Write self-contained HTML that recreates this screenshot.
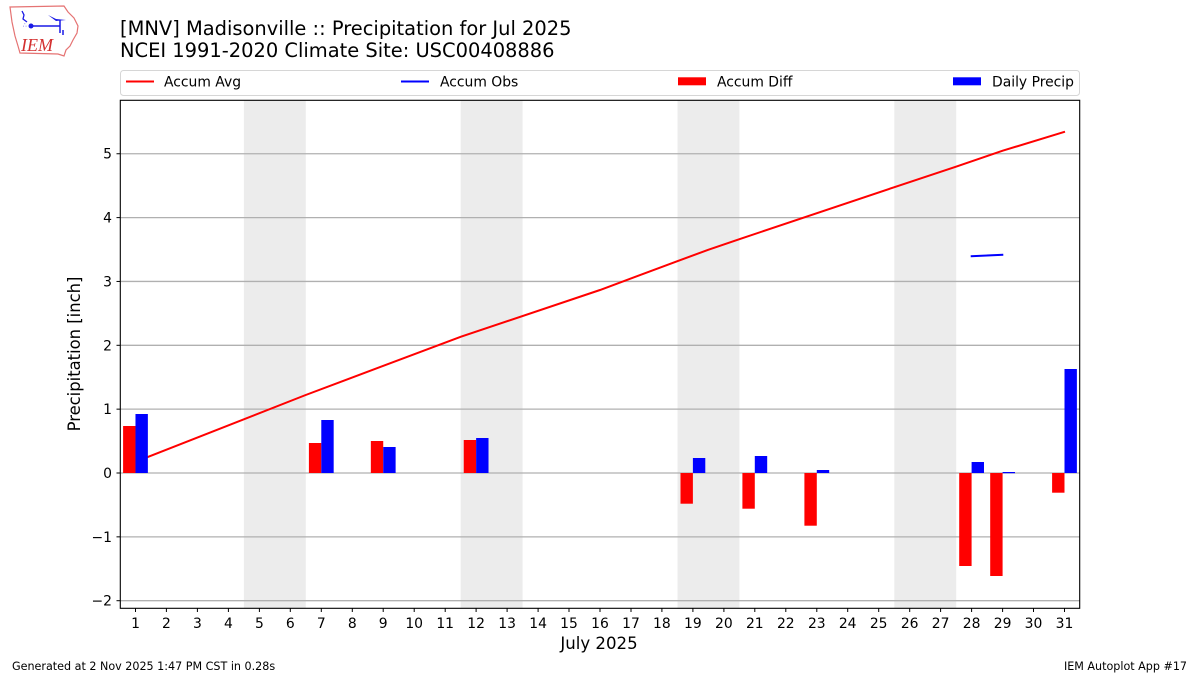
<!DOCTYPE html>
<html><head><meta charset="utf-8"><style>
html,body{margin:0;padding:0;background:#fff;}
svg{display:block;font-family:"DejaVu Sans","Liberation Sans",sans-serif;}
</style></head><body>
<svg width="1200" height="675" viewBox="0 0 1200 675" xmlns="http://www.w3.org/2000/svg">
<rect width="1200" height="675" fill="#fff"/>
<!-- logo -->
<g>
<path d="M10,7 L64,6 L68,12 L74,18 L78,26 L77,33 L73,40 L70,46 L66,50 L64,56 L58,54 L20,53 L18,46 L15,36 L12,22 Z" fill="none" stroke="#e57373" stroke-width="1.2"/>
<path d="M22,11 L24,15 L23,19 L27,22" fill="none" stroke="#1a1ae6" stroke-width="1.3"/>
<circle cx="31" cy="26" r="2.5" fill="#1a1ae6"/>
<path d="M31,26 L60,26 M60,20 L60,33 M63,30 L63,35" stroke="#1a1ae6" stroke-width="1.5" fill="none"/>
<path d="M48,15 L56,19 L66,20 L56,21 Z" fill="#1a1ae6"/>
<text x="23" y="27" font-size="6" fill="#1a1ae6">&#8756;</text>
<text x="21" y="51" font-family="Liberation Serif,serif" font-style="italic" font-size="18" fill="#d32f2f">IEM</text>
</g>
<!-- titles -->
<text x="120" y="35" font-size="19.45" fill="#000">[MNV] Madisonville :: Precipitation for Jul 2025</text>
<text x="120" y="57" font-size="19.45" fill="#000">NCEI 1991-2020 Climate Site: USC00408886</text>
<!-- legend -->
<rect x="120.5" y="70.5" width="959" height="25" rx="3" fill="#fff" stroke="#d6d6d6" stroke-width="1"/>
<line x1="126" y1="81.5" x2="154" y2="81.5" stroke="#ff0000" stroke-width="2"/>
<text x="164" y="86.5" font-size="13.9">Accum Avg</text>
<line x1="401" y1="81.5" x2="429" y2="81.5" stroke="#0000ff" stroke-width="2"/>
<text x="440" y="86.5" font-size="13.9">Accum Obs</text>
<rect x="678" y="77.3" width="28" height="8" fill="#ff0000"/>
<text x="717" y="86.5" font-size="13.9">Accum Diff</text>
<rect x="953" y="77.3" width="28" height="8" fill="#0000ff"/>
<text x="992" y="86.5" font-size="13.9">Daily Precip</text>
<!-- weekend shading -->
<g fill="#ececec">
<rect x="243.9" y="100" width="61.9" height="508"/>
<rect x="460.7" y="100" width="61.9" height="508"/>
<rect x="677.5" y="100" width="61.9" height="508"/>
<rect x="894.3" y="100" width="61.9" height="508"/>
</g>
<!-- grid -->
<g stroke="#b0b0b0" stroke-width="1.3">
<line x1="120" y1="153.75" x2="1080" y2="153.75"/>
<line x1="120" y1="217.6" x2="1080" y2="217.6"/>
<line x1="120" y1="281.45" x2="1080" y2="281.45"/>
<line x1="120" y1="345.3" x2="1080" y2="345.3"/>
<line x1="120" y1="409.15" x2="1080" y2="409.15"/>
<line x1="120" y1="473" x2="1080" y2="473"/>
<line x1="120" y1="536.85" x2="1080" y2="536.85"/>
<line x1="120" y1="600.7" x2="1080" y2="600.7"/>
</g>
<!-- accum avg line -->
<polyline fill="none" stroke="#ff0000" stroke-width="2" points="135.5,461.8 305.7,395 461,336.7 600,290 677,261.3 708.2,249.8 739,239.3 894,187.3 956,166.7 1002.7,150.7 1065,131.7"/>
<!-- accum obs -->
<line x1="970.7" y1="256.2" x2="1003.3" y2="254.8" stroke="#0000ff" stroke-width="2"/>
<!-- red bars -->
<g fill="#ff0000">
<rect x="123.09" y="426" width="12.39" height="47"/>
<rect x="308.9" y="443" width="12.39" height="30"/>
<rect x="370.84" y="441" width="12.39" height="32"/>
<rect x="463.74" y="440" width="12.39" height="33"/>
<rect x="680.5" y="473" width="12.39" height="30.7"/>
<rect x="742.4" y="473" width="12.39" height="35.7"/>
<rect x="804.4" y="473" width="12.39" height="52.7"/>
<rect x="959.2" y="473" width="12.39" height="93"/>
<rect x="990.2" y="473" width="12.39" height="103"/>
<rect x="1052.1" y="473" width="12.39" height="19.7"/>
</g>
<!-- blue bars -->
<g fill="#0000ff">
<rect x="135.48" y="414" width="12.39" height="59"/>
<rect x="321.29" y="420" width="12.39" height="53"/>
<rect x="383.23" y="447" width="12.39" height="26"/>
<rect x="476.13" y="438" width="12.39" height="35"/>
<rect x="692.9" y="458" width="12.39" height="15"/>
<rect x="754.8" y="456" width="12.39" height="17"/>
<rect x="816.8" y="470" width="12.39" height="3"/>
<rect x="971.6" y="462" width="12.39" height="11"/>
<rect x="1002.6" y="472" width="12.39" height="1.2"/>
<rect x="1064.5" y="369" width="12.39" height="104"/>
</g>
<!-- axes frame -->
<rect x="120.3" y="100.3" width="959.4" height="508" fill="none" stroke="#000" stroke-width="1.1"/>
<!-- y ticks -->
<g stroke="#000" stroke-width="1">
<line x1="116.5" y1="153.75" x2="120" y2="153.75"/>
<line x1="116.5" y1="217.6" x2="120" y2="217.6"/>
<line x1="116.5" y1="281.45" x2="120" y2="281.45"/>
<line x1="116.5" y1="345.3" x2="120" y2="345.3"/>
<line x1="116.5" y1="409.15" x2="120" y2="409.15"/>
<line x1="116.5" y1="473" x2="120" y2="473"/>
<line x1="116.5" y1="536.85" x2="120" y2="536.85"/>
<line x1="116.5" y1="600.7" x2="120" y2="600.7"/>
</g>
<g font-size="13.9" text-anchor="end">
<text x="112" y="158.7">5</text>
<text x="112" y="222.6">4</text>
<text x="112" y="286.4">3</text>
<text x="112" y="350.3">2</text>
<text x="112" y="414.1">1</text>
<text x="112" y="478">0</text>
<text x="112" y="541.8">−1</text>
<text x="112" y="605.7">−2</text>
</g>
<text transform="translate(80,354) rotate(-90)" font-size="16.4" text-anchor="middle">Precipitation [inch]</text>
<!-- x ticks -->
<g stroke="#000" stroke-width="1">
<line x1="135.5" y1="608" x2="135.5" y2="612"/><line x1="166.4" y1="608" x2="166.4" y2="612"/><line x1="197.4" y1="608" x2="197.4" y2="612"/><line x1="228.4" y1="608" x2="228.4" y2="612"/><line x1="259.4" y1="608" x2="259.4" y2="612"/><line x1="290.3" y1="608" x2="290.3" y2="612"/><line x1="321.3" y1="608" x2="321.3" y2="612"/><line x1="352.3" y1="608" x2="352.3" y2="612"/><line x1="383.2" y1="608" x2="383.2" y2="612"/><line x1="414.2" y1="608" x2="414.2" y2="612"/><line x1="445.2" y1="608" x2="445.2" y2="612"/><line x1="476.1" y1="608" x2="476.1" y2="612"/><line x1="507.1" y1="608" x2="507.1" y2="612"/><line x1="538.1" y1="608" x2="538.1" y2="612"/><line x1="569" y1="608" x2="569" y2="612"/><line x1="600" y1="608" x2="600" y2="612"/><line x1="631" y1="608" x2="631" y2="612"/><line x1="661.9" y1="608" x2="661.9" y2="612"/><line x1="692.9" y1="608" x2="692.9" y2="612"/><line x1="723.9" y1="608" x2="723.9" y2="612"/><line x1="754.8" y1="608" x2="754.8" y2="612"/><line x1="785.8" y1="608" x2="785.8" y2="612"/><line x1="816.8" y1="608" x2="816.8" y2="612"/><line x1="847.7" y1="608" x2="847.7" y2="612"/><line x1="878.7" y1="608" x2="878.7" y2="612"/><line x1="909.7" y1="608" x2="909.7" y2="612"/><line x1="940.6" y1="608" x2="940.6" y2="612"/><line x1="971.6" y1="608" x2="971.6" y2="612"/><line x1="1002.6" y1="608" x2="1002.6" y2="612"/><line x1="1033.5" y1="608" x2="1033.5" y2="612"/><line x1="1064.5" y1="608" x2="1064.5" y2="612"/>
</g>
<g font-size="13.9" text-anchor="middle">
<text x="135.5" y="628">1</text><text x="166.4" y="628">2</text><text x="197.4" y="628">3</text><text x="228.4" y="628">4</text><text x="259.4" y="628">5</text><text x="290.3" y="628">6</text><text x="321.3" y="628">7</text><text x="352.3" y="628">8</text><text x="383.2" y="628">9</text><text x="414.2" y="628">10</text><text x="445.2" y="628">11</text><text x="476.1" y="628">12</text><text x="507.1" y="628">13</text><text x="538.1" y="628">14</text><text x="569" y="628">15</text><text x="600" y="628">16</text><text x="631" y="628">17</text><text x="661.9" y="628">18</text><text x="692.9" y="628">19</text><text x="723.9" y="628">20</text><text x="754.8" y="628">21</text><text x="785.8" y="628">22</text><text x="816.8" y="628">23</text><text x="847.7" y="628">24</text><text x="878.7" y="628">25</text><text x="909.7" y="628">26</text><text x="940.6" y="628">27</text><text x="971.6" y="628">28</text><text x="1002.6" y="628">29</text><text x="1033.5" y="628">30</text><text x="1064.5" y="628">31</text>
</g>
<text x="599" y="649" font-size="16.6" text-anchor="middle">July 2025</text>
<!-- footer -->
<text x="12" y="670" font-size="11.15">Generated at 2 Nov 2025 1:47 PM CST in 0.28s</text>
<text x="1187" y="670" font-size="11.15" text-anchor="end">IEM Autoplot App #17</text>
</svg>
</body></html>
